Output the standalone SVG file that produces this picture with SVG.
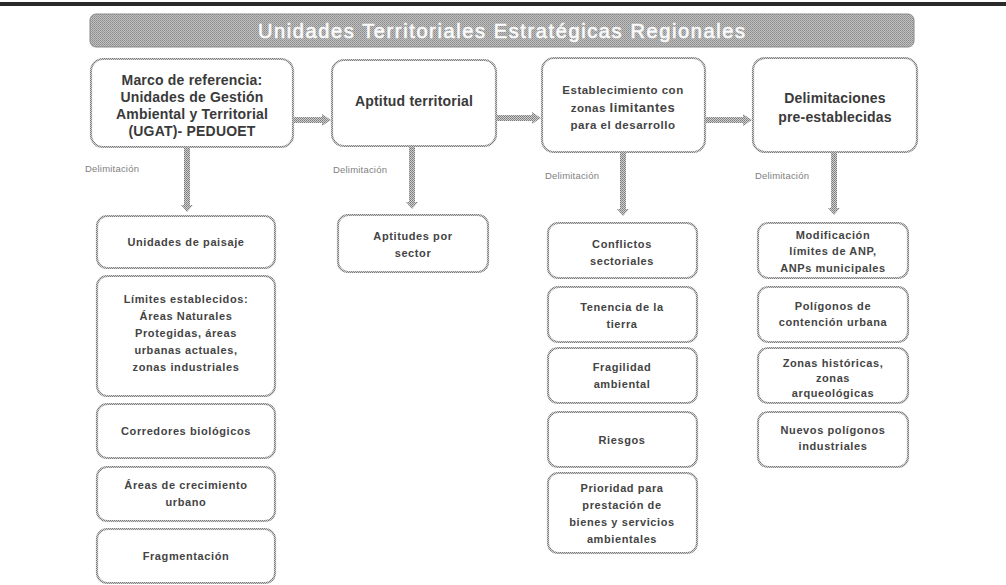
<svg xmlns="http://www.w3.org/2000/svg" width="1006" height="585" viewBox="0 0 1006 585">
<defs>
<pattern id="d" width="2" height="2" patternUnits="userSpaceOnUse"><rect width="2" height="2" fill="#d0d0d0"/><rect width="1" height="1" fill="#7a7a7a"/><rect x="1" y="1" width="1" height="1" fill="#8a8a8a"/></pattern>
<pattern id="t" width="2" height="2" patternUnits="userSpaceOnUse"><rect width="2" height="2" fill="#c0c0c0"/><rect width="1" height="1" fill="#8a8a8a"/><rect x="1" y="1" width="1" height="1" fill="#9a9a9a"/></pattern>
<style>
.box{fill:#fff;stroke:url(#d);stroke-width:2.2}
.arr{fill:url(#d)}
.main{font-family:"Liberation Sans",Arial,sans-serif;font-weight:bold;font-size:14px;fill:#3a3a3a;text-anchor:middle;letter-spacing:0.2px}
.mid{font-family:"Liberation Sans",Arial,sans-serif;font-weight:bold;font-size:11.5px;fill:#444;text-anchor:middle;letter-spacing:0.5px}
.sub{font-family:"Liberation Sans",Arial,sans-serif;font-weight:bold;font-size:11px;fill:#444;text-anchor:middle;letter-spacing:0.6px}
.lbl{font-family:"Liberation Sans",Arial,sans-serif;font-size:9.5px;fill:#808080;letter-spacing:0.2px}
.title{font-family:"Liberation Sans",Arial,sans-serif;font-size:20px;fill:#fff;stroke:#f4f4f4;stroke-width:0.7}
</style>
</defs>
<rect x="0" y="2" width="1006" height="4" fill="#2a2a2a"/>
<g id="title">
<rect x="90" y="14" width="824" height="33" rx="6" fill="url(#t)" stroke="#8a8a8a" stroke-width="1"/>
<text class="title" x="258" y="38" textLength="487" lengthAdjust="spacing">Unidades Territoriales Estratégicas Regionales</text>
</g>
<g id="connectors">
<polygon class="arr" points="293,117 322,117 322,114 331,120 322,126 322,123 293,123"/>
<polygon class="arr" points="496,115 532,115 532,112 541,118 532,124 532,121 496,121"/>
<polygon class="arr" points="705,117 743,117 743,114 752,120 743,126 743,123 705,123"/>
<polygon class="arr" points="184,147 190,147 190,205 193,205 187,212 181,205 184,205"/>
<polygon class="arr" points="409,146 415,146 415,202 418,202 412,209 406,202 409,202"/>
<polygon class="arr" points="620,152 626,152 626,209 629,209 623,216 617,209 620,209"/>
<polygon class="arr" points="831,152 837,152 837,208 840,208 834,215 828,208 831,208"/>
<text class="lbl" x="85" y="172">Delimitación</text>
<text class="lbl" x="333" y="173">Delimitación</text>
<text class="lbl" x="545" y="179">Delimitación</text>
<text class="lbl" x="755" y="179">Delimitación</text>
</g>
<g id="n1">
<rect class="box" x="91" y="59" width="202" height="88" rx="12"/>
<text class="main" x="192" y="85">Marco de referencia:</text>
<text class="main" x="192" y="102">Unidades de Gestión</text>
<text class="main" x="192" y="119">Ambiental y Territorial</text>
<text class="main" x="192" y="136">(UGAT)- PEDUOET</text>
</g>
<g id="n2">
<rect class="box" x="332" y="60" width="164" height="86" rx="12"/>
<text class="main" x="414" y="106">Aptitud territorial</text>
</g>
<g id="n3">
<rect class="box" x="542" y="58" width="163" height="94" rx="12"/>
<text class="mid" x="623" y="94">Establecimiento con</text>
<text class="mid" x="623" y="112">zonas <tspan font-size="13px">limitantes</tspan></text>
<text class="mid" x="623" y="129">para el desarrollo</text>
</g>
<g id="n4">
<rect class="box" x="753" y="58" width="164" height="94" rx="12"/>
<text class="main" x="835" y="103">Delimitaciones</text>
<text class="main" x="835" y="122">pre-establecidas</text>
</g>
<g id="a1">
<rect class="box" x="97" y="216" width="178" height="52" rx="10"/>
<text class="sub" x="186" y="246">Unidades de paisaje</text>
</g>
<g id="a2">
<rect class="box" x="97" y="276" width="178" height="120" rx="10"/>
<text class="sub" x="186" y="303">Límites establecidos:</text>
<text class="sub" x="186" y="320">Áreas Naturales</text>
<text class="sub" x="186" y="337">Protegidas,  áreas</text>
<text class="sub" x="186" y="354">urbanas actuales,</text>
<text class="sub" x="186" y="371">zonas industriales</text>
</g>
<g id="a3">
<rect class="box" x="97" y="404" width="178" height="54" rx="10"/>
<text class="sub" x="186" y="435">Corredores biológicos</text>
</g>
<g id="a4">
<rect class="box" x="97" y="467" width="178" height="54" rx="10"/>
<text class="sub" x="186" y="489">Áreas de crecimiento</text>
<text class="sub" x="186" y="506">urbano</text>
</g>
<g id="a5">
<rect class="box" x="97" y="529" width="178" height="54" rx="10"/>
<text class="sub" x="186" y="560">Fragmentación</text>
</g>
<g id="b1">
<rect class="box" x="338" y="215" width="150" height="57" rx="10"/>
<text class="sub" x="413" y="240">Aptitudes por</text>
<text class="sub" x="413" y="257">sector</text>
</g>
<g id="c1">
<rect class="box" x="548" y="223" width="149" height="55" rx="10"/>
<text class="sub" x="622" y="248">Conflictos</text>
<text class="sub" x="622" y="265">sectoriales</text>
</g>
<g id="c2">
<rect class="box" x="548" y="287" width="149" height="55" rx="10"/>
<text class="sub" x="622" y="311">Tenencia de la</text>
<text class="sub" x="622" y="328">tierra</text>
</g>
<g id="c3">
<rect class="box" x="548" y="348" width="149" height="55" rx="10"/>
<text class="sub" x="622" y="371">Fragilidad</text>
<text class="sub" x="622" y="388">ambiental</text>
</g>
<g id="c4">
<rect class="box" x="548" y="412" width="149" height="55" rx="10"/>
<text class="sub" x="622" y="444">Riesgos</text>
</g>
<g id="c5">
<rect class="box" x="548" y="473" width="149" height="80" rx="10"/>
<text class="sub" x="622" y="492">Prioridad para</text>
<text class="sub" x="622" y="509">prestación  de</text>
<text class="sub" x="622" y="526">bienes y servicios</text>
<text class="sub" x="622" y="543">ambientales</text>
</g>
<g id="d1">
<rect class="box" x="758" y="223" width="150" height="55" rx="10"/>
<text class="sub" x="833" y="239">Modificación</text>
<text class="sub" x="833" y="255">límites de ANP,</text>
<text class="sub" x="833" y="272">ANPs municipales</text>
</g>
<g id="d2">
<rect class="box" x="758" y="287" width="150" height="55" rx="10"/>
<text class="sub" x="833" y="310">Polígonos de</text>
<text class="sub" x="833" y="326">contención urbana</text>
</g>
<g id="d3">
<rect class="box" x="758" y="348" width="150" height="55" rx="10"/>
<text class="sub" x="833" y="367">Zonas históricas,</text>
<text class="sub" x="833" y="382">zonas</text>
<text class="sub" x="833" y="397">arqueológicas</text>
</g>
<g id="d4">
<rect class="box" x="758" y="412" width="150" height="55" rx="10"/>
<text class="sub" x="833" y="434">Nuevos polígonos</text>
<text class="sub" x="833" y="450">industriales</text>
</g>
</svg>
